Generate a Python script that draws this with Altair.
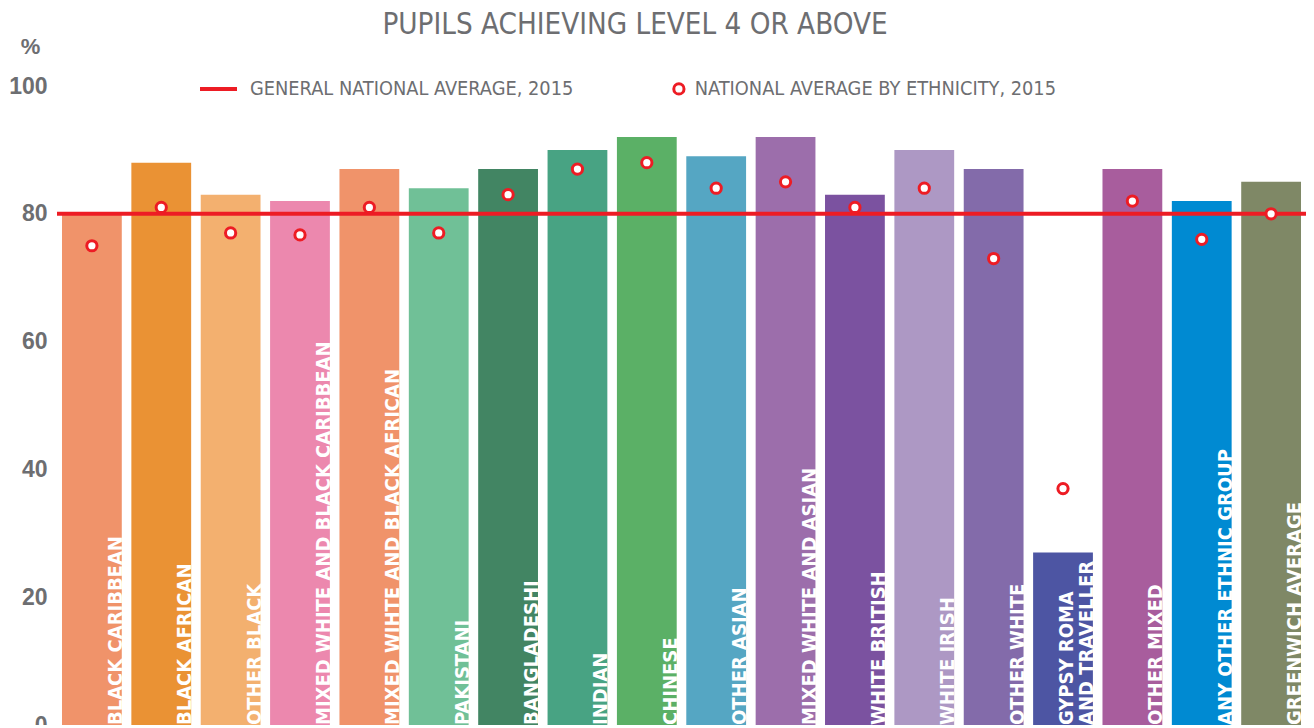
import altair as alt
import pandas as pd

categories = [
    "BLACK CARIBBEAN", "BLACK AFRICAN", "OTHER BLACK",
    "MIXED WHITE AND BLACK CARIBBEAN", "MIXED WIHTE AND BLACK AFRICAN",
    "PAKISTANI", "BANGLADESHI", "INDIAN", "CHINESE", "OTHER ASIAN",
    "MIXED WHITE AND ASIAN", "WHITE BRITISH", "WHITE IRISH", "OTHER WHITE",
    "GYPSY ROMA AND TRAVELLER", "OTHER MIXED", "ANY OTHER ETHNIC GROUP",
    "GREENWICH AVERAGE",
]
bar_labels = [
    "BLACK CARIBBEAN", "BLACK AFRICAN", "OTHER BLACK",
    "MIXED WHITE AND BLACK CARIBBEAN", "MIXED WIHTE AND BLACK AFRICAN",
    "PAKISTANI", "BANGLADESHI", "INDIAN", "CHINESE", "OTHER ASIAN",
    "MIXED WHITE AND ASIAN", "WHITE BRITISH", "WHITE IRISH", "OTHER WHITE",
    "GYPSY ROMA\nAND TRAVELLER", "OTHER MIXED", "ANY OTHER ETHNIC GROUP",
    "GREENWICH AVERAGE",
]
greenwich_values = [80, 88, 83, 82, 87, 84, 87, 90, 92, 89, 92, 83, 90, 87, 27, 87, 82, 85]
national_by_ethnicity = [75, 81, 77, 76.7, 81, 77, 83, 87, 88, 84, 85, 81, 84, 73, 37, 82, 76, 80]
bar_colors = [
    "#F0936A", "#EA9234", "#F3B06F", "#EC88AE", "#F0936A", "#70C097",
    "#428563", "#48A383", "#5BB066", "#55A6C3", "#9C6EAB", "#7B52A0",
    "#AD98C4", "#836BAA", "#4D55A3", "#A85D9D", "#008AD2", "#7F8866",
]
general_national_average = 80
line_legend_label = "GENERAL NATIONAL AVERAGE, 2015"
point_legend_label = "NATIONAL AVERAGE BY ETHNICITY, 2015"
title_text = "PUPILS ACHIEVING LEVEL 4 OR ABOVE"
y_ticks = [0, 20, 40, 60, 80, 100]

RED = "#ED1C24"
GREY = "#6D6E71"
NARROW = "DejaVu Sans Condensed, Liberation Sans Narrow, sans-serif"
BOLD = "Liberation Sans, Arial, Helvetica, sans-serif"

df = pd.DataFrame({
    "cat": categories,
    "label": bar_labels,
    "value": greenwich_values,
    "national": national_by_ethnicity,
    "color": bar_colors,
    "series": [point_legend_label] * len(categories),
})
line_df = pd.DataFrame({"value": [general_national_average], "series": [line_legend_label]})
title_df = pd.DataFrame({"title": [title_text]})

x_enc = alt.X("cat:N", sort=categories, axis=None,
              scale=alt.Scale(paddingInner=0.138, paddingOuter=0.072))
y_scale = alt.Scale(domain=[0, 100], nice=False)
y_axis = alt.Axis(
    values=y_ticks, title="%", grid=False, domain=False, ticks=False,
    labelFont=BOLD, labelFontWeight="bold", labelFontSize=23, labelColor=GREY,
    labelPadding=10, labelBaseline="middle",
    titleAngle=0, titleX=-27, titleY=-33, titleAlign="center",
    titleBaseline="alphabetic", titleFont=BOLD, titleFontWeight="bold",
    titleFontSize=22, titleColor=GREY,
)

base = alt.Chart(df).encode(x=x_enc)

bars = base.mark_bar().encode(
    y=alt.Y("value:Q", scale=y_scale, axis=y_axis),
    color=alt.Color("color:N", scale=None),
)

label_style = dict(
    angle=270, align="left", baseline="bottom", lineBreak="\n", lineHeight=20,
    font=NARROW, fontWeight="bold", fontSize=20, color="white", xOffset=34,
)
labels_single = base.transform_filter(
    "indexof(datum.label, '\\n') < 0"
).mark_text(**label_style).encode(y=alt.datum(0), text="label:N")
labels_multi = base.transform_filter(
    "indexof(datum.label, '\\n') >= 0"
).mark_text(dy=-20, **label_style).encode(y=alt.datum(0), text="label:N")

rule = alt.Chart(line_df).mark_rule(strokeWidth=4).encode(
    y=alt.Y("value:Q"),
    color=alt.Color("series:N", scale=alt.Scale(range=[RED]), legend=alt.Legend(
        title=None, orient="none", legendX=141, legendY=-17.5, padding=0,
        symbolType="stroke", symbolSize=1369, symbolStrokeWidth=4,
        labelFont=NARROW, labelFontSize=19.8, labelColor=GREY, labelOffset=11,
        labelLimit=0,
    )),
)

points = base.mark_point(
    shape="circle", filled=True, fill="white", strokeWidth=3, size=105, opacity=1,
).encode(
    y=alt.Y("national:Q"),
    stroke=alt.Stroke("series:N", scale=alt.Scale(range=[RED]), legend=alt.Legend(
        title=None, orient="none", legendX=612, legendY=-7, padding=0,
        symbolType="circle", symbolSize=105, symbolStrokeWidth=3,
        symbolFillColor="white", symbolStrokeColor=RED,
        labelFont=NARROW, labelFontSize=19.8, labelColor=GREY, labelOffset=6,
        labelLimit=0,
    )),
)

title = alt.Chart(title_df).mark_text(
    font=NARROW, fontSize=29.3, color=GREY, align="center", baseline="alphabetic",
).encode(text="title:N", x=alt.value(578), y=alt.value(-52))

chart = alt.layer(bars, labels_single, labels_multi, rule, points, title).properties(
    width=1249, height=639,
    autosize=alt.AutoSizeParams(type="none"),
    padding={"left": 49, "top": 78, "right": 0, "bottom": 0},
).resolve_scale(color="independent").configure_view(stroke=None)

chart.save("out.html", embed_options={"renderer": "svg", "actions": False})
